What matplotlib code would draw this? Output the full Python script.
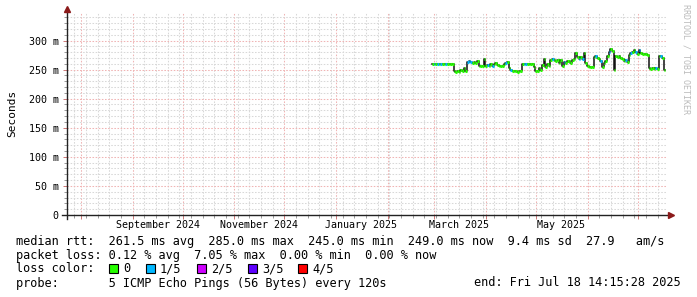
import datetime as dt
import matplotlib
matplotlib.use("Agg")
import matplotlib.pyplot as plt
import matplotlib.dates as mdates
from matplotlib.patches import Rectangle
from matplotlib.ticker import FixedLocator, MultipleLocator

# ---------------- data ----------------
series_start = dt.datetime(2025, 2, 27, 12, 0)
median_rtt_ms = [
    260, 259, 260, 259, 260, 260, 259, 260, 259, 260, 260, 259, 260,
    247, 245, 248, 246, 250, 247, 252, 248,
    263, 264, 263, 262, 263, 262, 264,
    257, 256, 256, 268,
    257, 258, 256, 259, 257, 260,
    261, 258, 256,
    256, 257, 259, 262, 263,
    253, 249, 248,
    247, 247, 246, 247, 247,
    259, 260, 260, 259, 260, 260, 259,
    254, 247, 247, 252, 249, 258, 268, 254, 260, 256, 266,
    269, 266, 265, 267, 262, 266, 256, 263,
    261, 264, 265, 262, 266, 268, 278,
    271, 268, 272, 269, 279, 262,
    257, 254, 254, 255, 272,
    274, 270, 268, 265, 254, 262, 265,
    274, 280, 286, 282, 250,
    273, 272, 274, 270,
    268, 265, 266, 263,
    275, 278, 280, 284,
    281, 277, 283, 279,
    276, 276, 277, 275,
    252, 251, 252, 251, 253, 251,
    274, 273, 270, 250,
]
blue_days = [1, 3, 5, 8, 21, 22, 23, 33, 36, 44, 47, 55, 56, 72, 79, 88, 90,
             98, 101, 106, 116, 119, 122, 124, 134, 137]
loss_names = ["0", "1/5", "2/5", "3/5", "4/5"]
loss_colors = ["#26ff00", "#00b8ff", "#ce00ff", "#5e00ff", "#ff0000"]

x_start = dt.datetime(2024, 7, 23, 14, 15, 28)
x_end = dt.datetime(2025, 7, 18, 14, 15, 28)

ytick_values = [0, 50, 100, 150, 200, 250, 300]
ytick_labels = ["0", "50 m", "100 m", "150 m", "200 m", "250 m", "300 m"]
xlabel_dates = [dt.datetime(2024, 9, 16), dt.datetime(2024, 11, 16),
                dt.datetime(2025, 1, 16), dt.datetime(2025, 3, 16),
                dt.datetime(2025, 5, 16)]
xlabel_texts = ["September 2024", "November 2024", "January 2025",
                "March 2025", "May 2025"]

legend_rows = [
    "median rtt:  261.5 ms avg  285.0 ms max  245.0 ms min  249.0 ms now  9.4 ms sd  27.9   am/s",
    "packet loss: 0.12 % avg  7.05 % max  0.00 % min  0.00 % now",
    "loss color:",
    "probe:       5 ICMP Echo Pings (56 Bytes) every 120s",
]
end_text = "end: Fri Jul 18 14:15:28 2025"

# ---------------- figure ----------------
W, H = 697, 297
mono = "DejaVu Sans Mono"
plt.rcParams["font.family"] = mono
fig = plt.figure(figsize=(W / 100, H / 100), dpi=100)
fig.patch.set_facecolor("white")

L, R, T, B = 67, 667, 12, 215
ax = fig.add_axes([L / W, 1 - B / H, (R - L) / W, (B - T) / H])
ax.set_facecolor("white")

def axx(px):
    return (px - L) / (R - L)

def axy(py):
    return (B - py) / (B - T)

times = [series_start + dt.timedelta(days=i) for i in range(len(median_rtt_ms) + 1)]
vals = median_rtt_ms + [median_rtt_ms[-1]]
ax.plot(times, vals, drawstyle="steps-post", color="#111111", lw=1.1, zorder=3)
seg_colors = [loss_colors[1] if i in blue_days else loss_colors[0]
              for i in range(len(median_rtt_ms))]
ax.hlines(median_rtt_ms, times[:-1], times[1:], colors=seg_colors, lw=2.2, zorder=4)

ax.set_xlim(x_start, x_end)
ax.set_ylim(0, 349)

# grid
ax.xaxis.set_major_locator(mdates.MonthLocator())
ax.xaxis.set_minor_locator(mdates.WeekdayLocator(byweekday=mdates.SU))
ax.yaxis.set_major_locator(FixedLocator(ytick_values))
ax.yaxis.set_minor_locator(MultipleLocator(10))
ax.set_yticklabels(ytick_labels)
ax.set_xticklabels([])
ax.grid(which="minor", color="#d8d8d8", lw=0.75, ls=(0, (1.5, 1.5)), zorder=1)
ax.grid(which="major", color="#f0b4b4", lw=0.75, ls=(0, (1.5, 1.5)), zorder=2)
ax.tick_params(which="major", length=3, width=0.7, color="#cc7777", direction="out",
               labelsize=7.2, pad=3, labelcolor="black")
ax.tick_params(which="minor", length=2, width=0.7, color="#999999", direction="out")
for s in ax.spines.values():
    s.set_visible(False)

# axis lines with arrows
ax.plot([axx(67), axx(67)], [axy(219), axy(10)], transform=ax.transAxes,
        color="#222222", lw=1.0, clip_on=False, zorder=5)
ax.plot([axx(62), axx(670)], [axy(215), axy(215)], transform=ax.transAxes,
        color="#222222", lw=1.0, clip_on=False, zorder=5)
ax.plot([axx(67)], [axy(9)], marker="^", ms=4, color="#8b1a1a", transform=ax.transAxes,
        clip_on=False, zorder=6)
ax.plot([axx(671)], [axy(215)], marker=">", ms=4, color="#8b1a1a", transform=ax.transAxes,
        clip_on=False, zorder=6)

# x labels
xt = ax.get_xaxis_transform()
for d, t in zip(xlabel_dates, xlabel_texts):
    ax.text(d, axy(225), t, transform=xt, ha="center", va="center", fontsize=7.2)

ax.set_ylabel("Seconds", fontsize=8, labelpad=8)
ax.yaxis.set_label_coords(axx(17), axy(113), transform=ax.transAxes)

# legend
def fx(x):
    return x / W

def fy(y):
    return 1 - y / H

row_y = [241, 255, 269, 283]
for txt, y in zip(legend_rows, row_y):
    fig.text(fx(16), fy(y), txt, ha="left", va="center", fontsize=8.55)
fig.text(fx(681), fy(283), end_text, ha="right", va="center", fontsize=8.55)

box_x = [109, 146, 197, 248, 298]
for bx, name, col in zip(box_x, loss_names, loss_colors):
    fig.add_artist(Rectangle((fx(bx), fy(273)), 9 / W, 9 / H, transform=fig.transFigure,
                             facecolor=col, edgecolor="black", lw=0.8))
    fig.text(fx(bx + 14), fy(269), name, ha="left", va="center", fontsize=8.55)

fig.text(fx(686), fy(4), "RRDTOOL / TOBI OETIKER", rotation=-90, ha="center", va="top",
         fontsize=6, color="#bbbbbb")

fig.savefig("out.png", dpi=100, facecolor="white")
